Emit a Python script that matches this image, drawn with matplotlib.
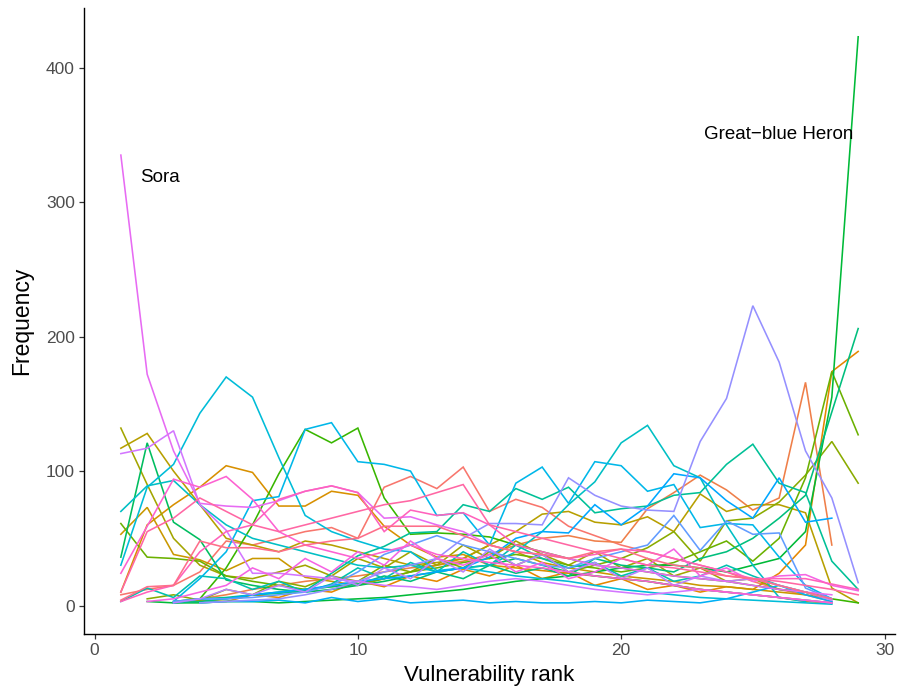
import numpy as np
import matplotlib
matplotlib.use("Agg")
import matplotlib.pyplot as plt

plt.rcParams["font.family"] = ["Liberation Sans", "DejaVu Sans"]

# Vulnerability ranks shared by every species
ranks = list(range(1, 30))
_ = None

american_bittern = [8, 12, 15, 25, 48, 45, 50, 55, 58, 50, 88, 96, 87, 103, 70, 79, 73, 59, 52, 45, 40, 35, 30, 25, 18, 12, 8, 3, _]
american_coot = [_, _, 3, 5, 8, 12, 15, 18, 20, 22, 25, 28, 30, 33, 38, 45, 50, 52, 48, 47, 72, 84, 97, 86, 71, 80, 166, 45, _]
american_wigeon = [_, _, 2, 4, 3, 8, 6, 12, 10, 18, 14, 22, 18, 27, 22, 30, 20, 25, 15, 20, 12, 15, 10, 14, 12, 24, 45, 174, 189]
belted_kingfisher = [10, 60, 75, 88, 104, 99, 74, 74, 85, 82, 59, 45, 36, 38, 30, 28, 26, 24, 22, 20, 18, 15, 12, 10, 8, 6, 3, 2, _]
black_tern = [53, 73, 38, 34, 26, 35, 35, 21, 18, 15, 20, 25, 30, 35, 45, 40, 32, 28, 25, 22, 20, 18, 15, 14, 12, 10, 8, 5, _]
blue_winged_teal = [117, 128, 100, 75, 50, 45, 40, 48, 45, 40, 35, 30, 32, 35, 45, 55, 68, 70, 62, 60, 66, 55, 83, 70, 75, 75, 69, 13, 2]
canada_goose = [132, 90, 50, 30, 22, 20, 25, 30, 22, 35, 28, 40, 30, 45, 35, 48, 38, 30, 40, 28, 35, 22, 28, 18, 20, 12, 10, 5, _]
common_gallinule = [_, 5, 8, 4, 12, 8, 18, 14, 22, 18, 30, 25, 35, 28, 40, 30, 38, 25, 30, 35, 43, 55, 33, 63, 65, 77, 97, 122, 91]
common_yellowthroat = [61, 36, 35, 33, 22, 18, 15, 12, 14, 16, 20, 25, 28, 32, 35, 38, 35, 30, 28, 25, 28, 32, 40, 48, 33, 50, 95, 174, 127]
forsters_tern = [_, _, _, 5, 28, 60, 98, 131, 121, 132, 80, 53, 54, 53, 51, 45, 40, 35, 30, 28, 25, 22, 20, 18, 15, 12, 10, 5, 2]
great_blue_heron = [_, 3, 2, 2, 3, 3, 2, 3, 4, 5, 6, 8, 10, 12, 15, 18, 20, 22, 25, 28, 30, 30, 28, 25, 30, 35, 55, 155, 423]
green_heron = [36, 121, 62, 49, 19, 15, 12, 10, 12, 15, 18, 22, 25, 28, 30, 35, 30, 25, 22, 20, 18, 15, 12, 10, 8, 6, 4, 2, _]
least_bittern = [_, _, 2, 3, 5, 8, 10, 12, 14, 16, 22, 18, 25, 20, 30, 24, 28, 22, 35, 30, 28, 25, 35, 40, 50, 65, 82, 144, 206]
mallard = [_, _, 3, 5, 6, 8, 9, 11, 24, 37, 44, 54, 55, 75, 70, 87, 79, 88, 69, 72, 74, 82, 84, 105, 120, 91, 84, 33, 12]
marsh_wren = [3, 13, 6, 22, 20, 12, 18, 10, 16, 28, 20, 32, 25, 40, 30, 45, 35, 28, 32, 22, 28, 18, 22, 30, 22, 15, 10, 5, _]
mute_swan = [70, 89, 93, 75, 60, 50, 45, 40, 35, 30, 28, 30, 25, 28, 30, 40, 55, 75, 92, 121, 134, 104, 95, 60, 30, 6, 3, _, _]
northern_harrier = [30, 88, 105, 143, 170, 155, 110, 67, 55, 48, 42, 40, 26, 28, 25, 22, 20, 18, 15, 12, 10, 8, 6, 5, 4, 3, 2, 1, _]
pied_billed_grebe = [_, _, 3, 20, 40, 78, 81, 131, 136, 107, 105, 100, 67, 69, 45, 91, 103, 76, 107, 104, 85, 90, 58, 61, 60, 36, 15, 5, _]
red_winged_blackbird = [_, _, _, 2, 3, 3, 4, 2, 6, 3, 5, 2, 3, 4, 2, 3, 2, 2, 3, 2, 4, 3, 2, 5, 10, 15, 8, 3, _]
ring_necked_duck = [_, _, 2, 5, 5, 8, 10, 12, 15, 18, 20, 22, 25, 28, 36, 50, 55, 54, 75, 60, 74, 98, 95, 78, 65, 95, 62, 65, _]
sandhill_crane = [_, _, 3, 5, 5, 6, 8, 10, 15, 25, 38, 45, 52, 45, 40, 35, 30, 28, 35, 40, 45, 67, 41, 63, 53, 54, 13, 5, _]
sedge_wren = [_, _, _, 2, 3, 4, 5, 8, 12, 18, 25, 30, 35, 50, 61, 61, 60, 95, 82, 74, 71, 70, 122, 154, 223, 181, 115, 80, 17]
solitary_sandpiper = [_, _, 2, 5, 12, 8, 15, 10, 22, 15, 28, 20, 35, 25, 42, 30, 38, 25, 32, 20, 28, 15, 22, 18, 20, 15, 10, 4, _]
song_sparrow = [113, 117, 130, 75, 56, 24, 24, 22, 20, 18, 15, 14, 12, 15, 18, 20, 18, 15, 12, 10, 8, 10, 12, 10, 8, 6, 4, 2, _]
sora = [335, 172, 115, 76, 74, 73, 78, 85, 89, 84, 65, 66, 60, 55, 45, 40, 38, 35, 30, 28, 25, 22, 20, 18, 15, 12, 10, 8, _]
swamp_sparrow = [_, 3, 5, 10, 15, 28, 20, 35, 25, 40, 30, 48, 35, 30, 38, 25, 32, 20, 25, 35, 30, 42, 22, 28, 18, 22, 23, 15, 11]
trumpeter_swan = [24, 59, 94, 88, 96, 79, 55, 45, 40, 35, 40, 45, 38, 35, 32, 30, 28, 25, 22, 20, 18, 15, 12, 10, 8, 6, 4, 2, _]
virginia_rail = [3, 10, 15, 40, 55, 60, 79, 85, 89, 84, 55, 71, 67, 69, 60, 45, 40, 35, 38, 42, 40, 35, 30, 25, 20, 20, 20, 16, 12]
wilsons_snipe = [10, 55, 65, 80, 70, 60, 55, 60, 65, 70, 75, 78, 84, 90, 60, 55, 50, 45, 40, 35, 30, 28, 25, 22, 20, 18, 15, 12, 8]
wood_duck = [4, 14, 15, 48, 43, 43, 40, 45, 48, 50, 59, 59, 59, 52, 45, 40, 38, 35, 40, 42, 35, 30, 28, 22, 20, 15, 10, 5, _]

# Species in alphabetical order (this order sets the colour of each line)
series = [
    american_bittern, american_coot, american_wigeon, belted_kingfisher,
    black_tern, blue_winged_teal, canada_goose, common_gallinule,
    common_yellowthroat, forsters_tern, great_blue_heron, green_heron,
    least_bittern, mallard, marsh_wren, mute_swan, northern_harrier,
    pied_billed_grebe, red_winged_blackbird, ring_necked_duck,
    sandhill_crane, sedge_wren, solitary_sandpiper, song_sparrow, sora,
    swamp_sparrow, trumpeter_swan, virginia_rail, wilsons_snipe, wood_duck,
]

# Text labels placed beside the two extreme species
label_text = ["Sora", "Great\u2212blue Heron"]
label_x = [2.5, 26.0]
label_y = [318, 350]


def hue_palette(n, l=65.0, c=100.0, h_start=15.0):
    """Evenly spaced HCL (polar Luv) hues converted to sRGB."""
    hues = np.linspace(h_start, h_start + 360, n + 1)[:-1]
    xn, yn, zn = 95.047, 100.0, 108.883
    un = 4 * xn / (xn + 15 * yn + 3 * zn)
    vn = 9 * yn / (xn + 15 * yn + 3 * zn)
    m = np.array([[3.2404542, -1.5371385, -0.4985314],
                  [-0.9692660, 1.8760108, 0.0415560],
                  [0.0556434, -0.2040259, 1.0572252]])
    cols = []
    for h in hues:
        hr = np.deg2rad(h)
        u, v = c * np.cos(hr), c * np.sin(hr)
        y = yn * ((l + 16) / 116) ** 3
        up = u / (13 * l) + un
        vp = v / (13 * l) + vn
        x = y * 9 * up / (4 * vp)
        z = y * (12 - 3 * up - 20 * vp) / (4 * vp)
        rgb = m @ (np.array([x, y, z]) / 100.0)
        rgb = np.where(rgb <= 0.0031308, 12.92 * rgb,
                       1.055 * np.clip(rgb, 0, None) ** (1 / 2.4) - 0.055)
        cols.append(tuple(np.clip(rgb, 0, 1)))
    return cols


colors = hue_palette(len(series))

fig = plt.figure(figsize=(9.06, 6.96), dpi=100)
ax = fig.add_axes([0.0927, 0.0891, 0.8952, 0.8989])

x = np.array(ranks, dtype=float)
for vals, col in zip(series, colors):
    y = np.array([np.nan if v is None else v for v in vals], dtype=float)
    ax.plot(x, y, color=col, lw=1.15, solid_joinstyle="miter")

for t, tx, ty in zip(label_text, label_x, label_y):
    ax.text(tx, ty, t, ha="center", va="center", fontsize=13.5, color="black")

ymax = max(max(v for v in s if v is not None) for s in series)
ax.set_xlim(1 - 0.05 * 28, 29 + 0.05 * 28)
ax.set_ylim(-0.05 * ymax, ymax * 1.05)
ax.set_xticks([0, 10, 20, 30])
ax.set_yticks([0, 100, 200, 300, 400])

for side in ("top", "right"):
    ax.spines[side].set_visible(False)
for side in ("left", "bottom"):
    ax.spines[side].set_linewidth(1.0)
    ax.spines[side].set_color("black")
ax.tick_params(axis="both", length=3.5, width=0.9, color="#333333",
               labelcolor="#4D4D4D", labelsize=12.5, pad=3)

ax.set_xlabel("Vulnerability rank", fontsize=16, labelpad=5)
ax.set_ylabel("Frequency", fontsize=16.5, labelpad=9)

fig.savefig("out.png", dpi=100)
